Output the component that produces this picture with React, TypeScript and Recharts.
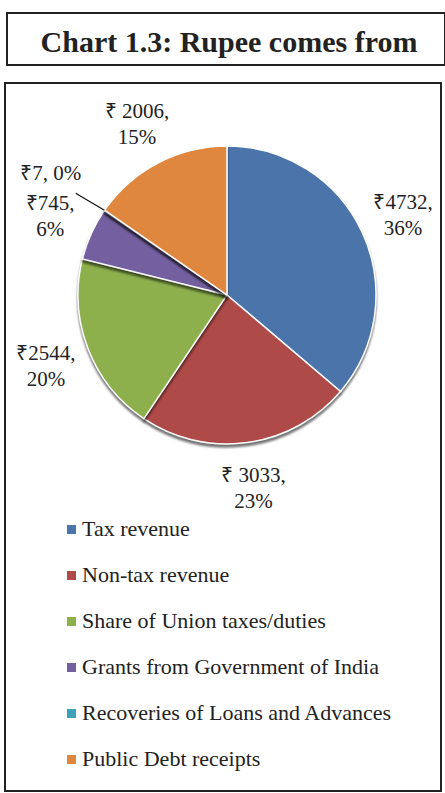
import { PieChart, Pie, Cell, Legend } from "recharts";

const categories = [
  "Tax revenue",
  "Non-tax revenue",
  "Share of Union taxes/duties",
  "Grants from Government of India",
  "Recoveries of Loans and Advances",
  "Public Debt receipts",
];
const amounts = [4732, 3033, 2544, 745, 7, 2006];
const amountLabels = ["₹4732,", "₹ 3033,", "₹2544,", "₹745,", "₹7,", "₹ 2006,"];
const percentLabels = ["36%", "23%", "20%", "6%", "0%", "15%"];

const COLORS = ["#4A74AA", "#AE4A48", "#8DB04C", "#7460A0", "#3FA0BC", "#E0873F"];

const data = categories.map((name, i) => ({ name, value: amounts[i] }));

const FONT = "'Liberation Serif', 'Times New Roman', serif";
const RAD = Math.PI / 180;

const renderLabel = (props: any) => {
  const { cx, cy, midAngle, outerRadius, index } = props;
  const cos = Math.cos(-midAngle * RAD);
  const sin = Math.sin(-midAngle * RAD);
  // tiny slice gets a single-line label pushed out with a leader line
  if (amounts[index] < 50) {
    const r1 = outerRadius;
    const r2 = outerRadius + 30;
    const r3 = outerRadius + 58;
    return (
      <g>
        <line
          x1={cx + r1 * cos}
          y1={cy + r1 * sin}
          x2={cx + r2 * cos - 4}
          y2={cy + r2 * sin}
          stroke="#111"
          strokeWidth={1.2}
        />
        <text
          x={cx + r3 * cos - 6}
          y={cy + r3 * sin + 3}
          textAnchor="middle"
          fontFamily={FONT}
          fontSize={21}
          fill="#222"
        >
          {amountLabels[index] + " " + percentLabels[index]}
        </text>
      </g>
    );
  }
  const r = outerRadius + 45;
  const x = cx + r * cos;
  const y = cy + r * sin;
  return (
    <text
      x={x}
      y={y}
      textAnchor="middle"
      fontFamily={FONT}
      fontSize={21}
      fill="#222"
    >
      <tspan x={x} dy={-5}>
        {amountLabels[index]}
      </tspan>
      <tspan x={x} dy={26}>
        {percentLabels[index]}
      </tspan>
    </text>
  );
};

// keep the legend in data order (recharts sorts the payload by name)
const renderLegend = () => (
  <div style={{ fontFamily: FONT, fontSize: 22, color: "#222" }}>
    {categories.map((name, i) => (
      <div
        key={`leg-${i}`}
        style={{ display: "flex", alignItems: "center", height: 46 }}
      >
        <span
          style={{
            display: "inline-block",
            width: 9,
            height: 9,
            background: COLORS[i],
            marginRight: 6,
          }}
        />
        <span>{name}</span>
      </div>
    ))}
  </div>
);

export default function App() {
  return (
    <div
      style={{
        position: "relative",
        width: 445,
        height: 793,
        background: "#fff",
        fontFamily: FONT,
      }}
    >
      <style>{"body{margin:0}"}</style>
      <div
        style={{
          position: "absolute",
          left: 6,
          top: 12,
          width: 436,
          height: 50,
          border: "2px solid #222",
          display: "flex",
          alignItems: "center",
          justifyContent: "center",
          fontWeight: "bold",
          fontSize: 30,
          color: "#222",
        }}
      >
        <span style={{ marginTop: 6, marginLeft: 6 }}>
          Chart 1.3: Rupee comes from
        </span>
      </div>
      <div
        style={{
          position: "absolute",
          left: 4,
          top: 82,
          width: 434,
          height: 706,
          border: "2px solid #222",
        }}
      />
      <div style={{ position: "absolute", left: 0, top: 0 }}>
        <PieChart
          width={445}
          height={793}
          margin={{ top: 0, right: 0, bottom: 0, left: 0 }}
        >
          <Pie
            data={data}
            dataKey="value"
            nameKey="name"
            cx={227}
            cy={295}
            outerRadius={149}
            startAngle={90}
            endAngle={-270}
            stroke="#fff"
            strokeWidth={1.5}
            label={renderLabel}
            labelLine={false}
            isAnimationActive={false}
            style={{ filter: "drop-shadow(0px 3px 1px rgba(0,0,0,0.55))" }}
          >
            {data.map((entry, index) => (
              <Cell key={`cell-${index}`} fill={COLORS[index]} />
            ))}
          </Pie>
          <Legend
            layout="vertical"
            content={renderLegend}
            wrapperStyle={{ left: 67, top: 506, width: 370 }}
          />
        </PieChart>
      </div>
    </div>
  );
}
